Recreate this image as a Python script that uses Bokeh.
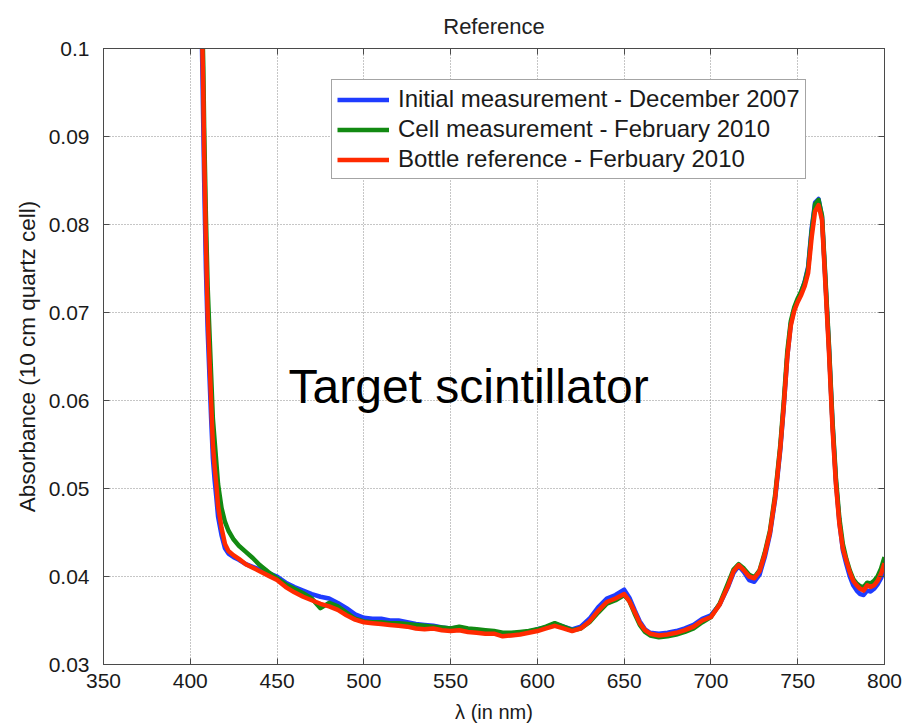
from bokeh.plotting import figure
from bokeh.models import (ColumnDataSource, Legend, LegendItem, LinearAxis,
                          FixedTicker, Label, Range1d)
from bokeh.embed import file_html
from bokeh.resources import INLINE

# Absorbance spectra, 10 cm quartz cell
wavelength = [406.5, 407.5, 408, 408.5, 409, 410, 411, 412, 413, 414, 415, 416,
              418, 420, 422, 425, 428, 432, 436, 440, 445, 450, 455, 460, 465,
              470, 475, 480, 485, 490, 495, 500, 505, 510, 515, 520, 525, 530,
              535, 540, 545, 550, 555, 560, 565, 570, 575, 580, 585, 590, 595,
              600, 605, 610, 615, 620, 625, 630, 635, 640, 645, 650, 653, 656,
              659, 662, 665, 670, 675, 680, 685, 690, 695, 700, 705, 710, 713,
              716, 719, 722, 725, 728, 731, 734, 737, 740, 742, 744, 746, 748,
              750, 752, 754, 756, 758, 760, 762, 764, 766, 768, 770, 772, 774,
              776, 778, 780, 782, 784, 786, 788, 790, 792, 794, 796, 798, 800]

initial_dec2007 = [0.103, 0.091, 0.085, 0.080, 0.075, 0.068, 0.063, 0.058, 0.0535,
                   0.051, 0.049, 0.0468, 0.0447, 0.0432, 0.0426, 0.0422, 0.0419,
                   0.0414, 0.0411, 0.0408, 0.0404, 0.0400, 0.0393, 0.0388, 0.0384,
                   0.0380, 0.0377, 0.0375, 0.0370, 0.0364, 0.0357, 0.0353, 0.0352,
                   0.0352, 0.0350, 0.0350, 0.0348, 0.0346, 0.0345, 0.0344, 0.0342,
                   0.0341, 0.0342, 0.0340, 0.0339, 0.0338, 0.0337, 0.0335, 0.0335,
                   0.0336, 0.0337, 0.0340, 0.0342, 0.0346, 0.0343, 0.0340, 0.0343,
                   0.0352, 0.0365, 0.0375, 0.0379, 0.0385, 0.0376, 0.0362, 0.0349,
                   0.0340, 0.0336, 0.0335, 0.0336, 0.0338, 0.0341, 0.0345, 0.0352,
                   0.0356, 0.0368, 0.0389, 0.0404, 0.0412, 0.0405, 0.0396, 0.0394,
                   0.0402, 0.0422, 0.0448, 0.0488, 0.0545, 0.0594, 0.0650, 0.0687,
                   0.0704, 0.0714, 0.0723, 0.0735, 0.0752, 0.0795, 0.0825, 0.0829,
                   0.0808, 0.0734, 0.0660, 0.0575, 0.0508, 0.0462, 0.0430, 0.0414,
                   0.0400, 0.0390, 0.0384, 0.0380, 0.0379, 0.0384, 0.0383, 0.0386,
                   0.0391, 0.0398, 0.0408]

cell_feb2010 = [0.107, 0.098, 0.091, 0.086, 0.081, 0.073, 0.068, 0.063, 0.058,
                0.0555, 0.053, 0.0505, 0.0478, 0.0462, 0.0452, 0.0442, 0.0435,
                0.0428, 0.0421, 0.0413, 0.0405, 0.0398, 0.0391, 0.0386, 0.0381,
                0.0375, 0.0364, 0.0370, 0.0366, 0.0359, 0.0352, 0.0349, 0.0348,
                0.0348, 0.0347, 0.0347, 0.0346, 0.0345, 0.0344, 0.0343, 0.0342,
                0.0341, 0.0343, 0.0341, 0.0340, 0.0339, 0.0338, 0.0336, 0.0336,
                0.0337, 0.0338, 0.0340, 0.0343, 0.0347, 0.0343, 0.0339, 0.0341,
                0.0348, 0.0359, 0.0369, 0.0373, 0.0379, 0.0372, 0.0358, 0.0345,
                0.0337, 0.0333, 0.0331, 0.0332, 0.0334, 0.0337, 0.0341, 0.0348,
                0.0354, 0.0369, 0.0393, 0.0408, 0.0414, 0.0409, 0.0402, 0.0399,
                0.0407, 0.0427, 0.0452, 0.0493, 0.0550, 0.0600, 0.0656, 0.0690,
                0.0706, 0.0716, 0.0724, 0.0734, 0.0750, 0.0792, 0.0823, 0.0828,
                0.0810, 0.0738, 0.0663, 0.0578, 0.0512, 0.0466, 0.0437, 0.0420,
                0.0407, 0.0397, 0.0392, 0.0389, 0.0388, 0.0393, 0.0392, 0.0395,
                0.0400, 0.0409, 0.0422]

bottle_feb2010 = [0.105, 0.095, 0.088, 0.083, 0.078, 0.070, 0.065, 0.060, 0.055,
                  0.0525, 0.0505, 0.048, 0.0455, 0.0437, 0.0429, 0.0424, 0.0420,
                  0.0414, 0.0410, 0.0406, 0.0401, 0.0396, 0.0388, 0.0382, 0.0377,
                  0.0373, 0.0369, 0.0366, 0.0362, 0.0356, 0.0351, 0.0348, 0.0347,
                  0.0346, 0.0345, 0.0344, 0.0343, 0.0341, 0.0340, 0.0341, 0.0339,
                  0.0338, 0.0339, 0.0337, 0.0336, 0.0335, 0.0335, 0.0332, 0.0333,
                  0.0334, 0.0336, 0.0338, 0.0341, 0.0344, 0.0341, 0.0338, 0.0341,
                  0.0349, 0.0361, 0.0371, 0.0375, 0.0380, 0.0372, 0.0360, 0.0347,
                  0.0339, 0.0335, 0.0333, 0.0334, 0.0336, 0.0339, 0.0343, 0.0350,
                  0.0354, 0.0368, 0.0390, 0.0406, 0.0413, 0.0407, 0.0400, 0.0398,
                  0.0406, 0.0425, 0.0450, 0.0490, 0.0547, 0.0595, 0.0650, 0.0685,
                  0.0702, 0.0712, 0.0720, 0.0730, 0.0745, 0.0785, 0.0815, 0.0822,
                  0.0805, 0.0730, 0.0655, 0.0570, 0.0505, 0.0460, 0.0432, 0.0418,
                  0.0405, 0.0395, 0.0390, 0.0386, 0.0384, 0.0390, 0.0388, 0.0390,
                  0.0395, 0.0403, 0.0415]

series_labels = ["Initial measurement - December 2007",
                 "Cell measurement - February 2010",
                 "Bottle reference - Ferbuary 2010"]
series_colors = ["#1f3cff", "#128a12", "#ff2a00"]

x_ticks = [350, 400, 450, 500, 550, 600, 650, 700, 750, 800]
x_tick_labels = ["350", "400", "450", "500", "550", "600", "650", "700", "750", "800"]
y_ticks = [0.03, 0.04, 0.05, 0.06, 0.07, 0.08, 0.09, 0.1]
y_tick_labels = ["0.03", "0.04", "0.05", "0.06", "0.07", "0.08", "0.09", "0.1"]

FONT = "Liberation Sans"
AXIS_COLOR = "#4a4a4a"

p = figure(width=905, height=728, output_backend="svg", toolbar_location=None,
           x_range=Range1d(350, 800), y_range=Range1d(0.03, 0.1),
           min_border_left=103, min_border_right=21, min_border_top=48,
           min_border_bottom=64, title="Reference")

p.title.text_font = FONT
p.title.text_font_size = "22px"
p.title.text_font_style = "normal"
p.title.text_color = "#222222"
p.title.align = "center"
p.title.standoff = 20

p.outline_line_color = AXIS_COLOR
p.outline_line_width = 1

p.xaxis.ticker = FixedTicker(ticks=x_ticks)
p.yaxis.ticker = FixedTicker(ticks=y_ticks)
p.xaxis.major_label_overrides = dict(zip(x_ticks, x_tick_labels))
p.yaxis.major_label_overrides = dict(zip(y_ticks, y_tick_labels))

for ax in (p.xaxis[0], p.yaxis[0]):
    ax.major_tick_in = 6
    ax.major_tick_out = 0
    ax.minor_tick_line_color = None
    ax.axis_line_color = AXIS_COLOR
    ax.major_tick_line_color = AXIS_COLOR
    ax.major_label_text_font = FONT
    ax.major_label_text_font_size = "21px"
    ax.major_label_text_color = "#1a1a1a"
    ax.axis_label_text_font = FONT
    ax.axis_label_text_font_style = "normal"
    ax.axis_label_text_color = "#1a1a1a"

p.xaxis.axis_label = "λ (in nm)"
p.xaxis.axis_label_text_font_size = "20px"
p.xaxis.major_label_standoff = 9
p.xaxis.axis_label_standoff = 10
p.yaxis.axis_label = "Absorbance (10 cm quartz cell)"
p.yaxis.axis_label_text_font_size = "22.5px"
p.yaxis.major_label_standoff = 14
p.yaxis.axis_label_standoff = 6

# box-style frame: inward ticks on the opposite sides too (labels not drawn)
top_axis = LinearAxis(ticker=FixedTicker(ticks=x_ticks), major_tick_in=6,
                      major_tick_out=0, minor_tick_line_color=None,
                      axis_line_color=AXIS_COLOR, major_tick_line_color=AXIS_COLOR,
                      major_label_text_font_size="1px", major_label_text_color=None,
                      major_label_standoff=0)
right_axis = LinearAxis(ticker=FixedTicker(ticks=y_ticks), major_tick_in=6,
                        major_tick_out=0, minor_tick_line_color=None,
                        axis_line_color=AXIS_COLOR, major_tick_line_color=AXIS_COLOR,
                        major_label_text_font_size="1px", major_label_text_color=None,
                        major_label_standoff=0)
p.add_layout(top_axis, "above")
p.add_layout(right_axis, "right")

p.xgrid.ticker = FixedTicker(ticks=x_ticks)
p.ygrid.ticker = FixedTicker(ticks=y_ticks)
for g in (p.xgrid[0], p.ygrid[0]):
    g.grid_line_color = "#8c8c8c"
    g.grid_line_dash = "1 2"
    g.grid_line_width = 1

renderers = []
for values, color in zip([initial_dec2007, cell_feb2010, bottle_feb2010], series_colors):
    src = ColumnDataSource(dict(x=wavelength, y=values))
    r = p.line("x", "y", source=src, line_color=color, line_width=4.5,
               line_join="round")
    renderers.append(r)

legend = Legend(items=[LegendItem(label=lab, renderers=[r])
                       for lab, r in zip(series_labels, renderers)],
                location=(228, 485), orientation="vertical")
legend.label_text_font = FONT
legend.label_text_font_size = "24px"
legend.label_text_color = "#1a1a1a"
legend.glyph_width = 52
legend.glyph_height = 27
legend.label_standoff = 9
legend.label_height = 27
legend.spacing = 2
legend.padding = 5
legend.margin = 0
legend.border_line_color = AXIS_COLOR
legend.border_line_width = 1
legend.background_fill_color = "white"
legend.background_fill_alpha = 1
p.add_layout(legend, "center")

p.add_layout(Label(x=456.6, y=0.0616, text="Target scintillator",
                   text_font=FONT, text_font_size="48px", text_color="black",
                   text_baseline="middle"))

open("out.html", "w").write(file_html(p, INLINE))
